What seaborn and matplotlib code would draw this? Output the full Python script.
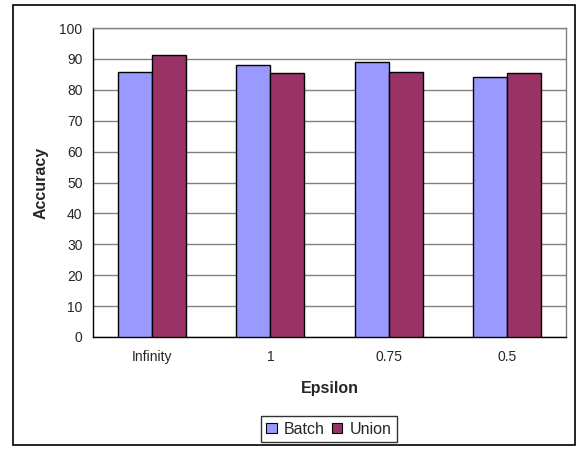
import matplotlib
matplotlib.use("Agg")
import matplotlib.pyplot as plt
import seaborn as sns
import pandas as pd
from matplotlib.patches import Rectangle

categories = ["Infinity", "1", "0.75", "0.5"]
batch = [85.6, 88.1, 89.1, 84.1]
union = [91.4, 85.3, 85.6, 85.5]
series_names = ["Batch", "Union"]
y_ticks = list(range(0, 101, 10))

df = pd.DataFrame({
    "Epsilon": categories * 2,
    "Accuracy": batch + union,
    "Series": [series_names[0]] * len(categories) + [series_names[1]] * len(categories),
})

sns.set_theme(style="white")
plt.rcParams["font.family"] = ["Liberation Sans", "DejaVu Sans"]

fig = plt.figure(figsize=(5.79, 4.5), dpi=100)
ax = fig.add_axes([93 / 579, 1 - 337 / 450, (566 - 93) / 579, (337 - 28) / 450])

sns.barplot(data=df, x="Epsilon", y="Accuracy", hue="Series", order=categories,
            hue_order=series_names, palette=["#9999FF", "#993366"],
            width=0.576, edgecolor="black", linewidth=1.0, saturation=1,
            errorbar=None, ax=ax, zorder=3)

ax.set_ylim(0, 100)
ax.set_xlim(-0.5, len(categories) - 0.5)
ax.set_yticks(y_ticks)
ax.set_yticklabels([str(t) for t in y_ticks], fontsize=10)
ax.yaxis.grid(True, color="#808080", linewidth=1.0, zorder=0)
ax.set_axisbelow(True)

# category labels, tick marks at boundaries between groups
ax.set_xticks(range(len(categories)))
ax.set_xticklabels(categories, fontsize=10)
ax.tick_params(axis="x", length=0, pad=9.5)
ax.set_xticks([i - 0.5 for i in range(len(categories) + 1)], minor=True)
ax.tick_params(axis="x", which="minor", length=3.6, width=1, color="black", direction="out")
ax.tick_params(axis="y", length=3.6, width=1, color="black", direction="out", pad=4)

for side in ["top", "right"]:
    ax.spines[side].set_color("#808080")
    ax.spines[side].set_linewidth(1.0)
for side in ["left", "bottom"]:
    ax.spines[side].set_color("black")
    ax.spines[side].set_linewidth(1.0)

ax.set_xlabel("Epsilon", fontsize=11.5, fontweight="bold", labelpad=12)
ax.set_ylabel("Accuracy", fontsize=11.5, fontweight="bold", labelpad=8)

leg = ax.legend(loc="center", bbox_to_anchor=(329 / 579, 1 - 429 / 450),
                bbox_transform=fig.transFigure, ncol=2, frameon=True,
                fontsize=11.5, handlelength=0.65, handleheight=0.65,
                handletextpad=0.45, columnspacing=0.45, borderpad=0.35,
                fancybox=False, edgecolor="black", borderaxespad=0)
leg.get_frame().set_linewidth(1.0)
for h in leg.legend_handles:
    h.set_edgecolor("black")
    h.set_linewidth(0.8)

# outer chart border
fig.patches.append(Rectangle((13 / 579, 1 - 445 / 450), (575 - 13) / 579, (445 - 5) / 450,
                             transform=fig.transFigure, fill=False,
                             edgecolor="black", linewidth=1.2))

fig.savefig("out.png", dpi=100)
